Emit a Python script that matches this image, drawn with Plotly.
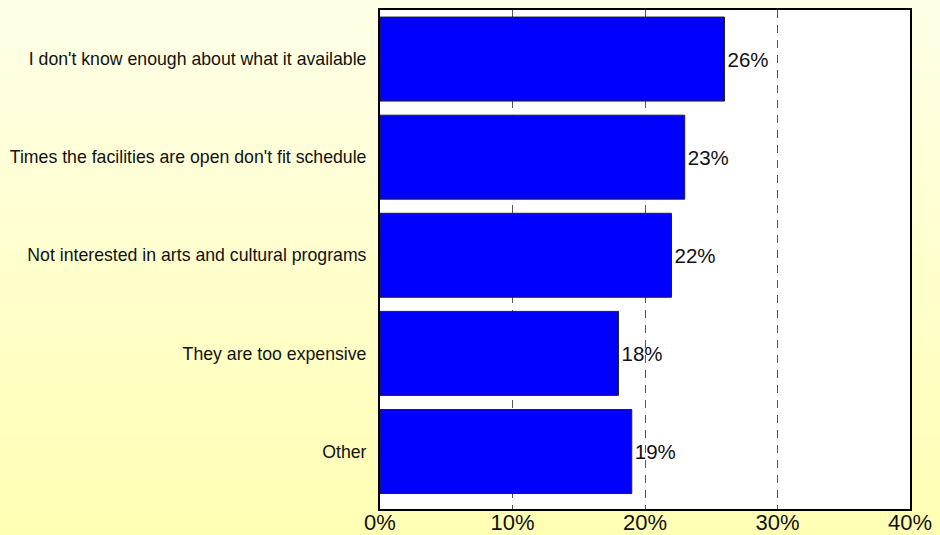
import plotly.graph_objects as go

categories = [
    "I don't know enough about what it available",
    "Times the facilities are open don't fit schedule",
    "Not interested in arts and cultural programs",
    "They are too expensive",
    "Other",
]
values = [26, 23, 22, 18, 19]
x_ticks = [0, 10, 20, 30, 40]
x_tick_labels = ["0%", "10%", "20%", "30%", "40%"]

FONT = "Liberation Sans, Arial, sans-serif"

fig = go.Figure()
fig.add_trace(go.Bar(
    y=categories,
    x=values,
    orientation="h",
    marker=dict(color="#0000FF", line=dict(color="#222222", width=1)),
    text=[f"{v}%" for v in values],
    textposition="outside",
    textfont=dict(family=FONT, size=20.5, color="#111111"),
    cliponaxis=False,
    hoverinfo="skip",
))

# vertical yellow gradient background
shapes = []
n = 60
top = (255, 255, 232)
bot = (255, 255, 178)
for i in range(n):
    t = i / (n - 1)
    c = tuple(round(top[k] + (bot[k] - top[k]) * t) for k in range(3))
    shapes.append(dict(
        type="rect", xref="paper", yref="paper", layer="below",
        x0=-1, x1=2,
        y0=1.05 - (i + 1) * (1.15 / n), y1=1.05 - i * (1.15 / n) + 0.001,
        line=dict(width=0), fillcolor=f"rgb{c}",
    ))
# white plot area
shapes.append(dict(type="rect", xref="paper", yref="paper", layer="below",
                   x0=0, x1=1, y0=0, y1=1, line=dict(width=0), fillcolor="white"))

fig.update_layout(
    width=940, height=535,
    margin=dict(l=380, r=30, t=10, b=26),
    paper_bgcolor="rgba(0,0,0,0)",
    plot_bgcolor="rgba(0,0,0,0)",
    showlegend=False,
    bargap=0.144,
    shapes=shapes,
    font=dict(family=FONT, color="#111111"),
    xaxis=dict(
        range=[0, 40], tickvals=x_ticks, ticktext=x_tick_labels,
        tickfont=dict(size=22, family=FONT, color="#111111"),
        showgrid=True, gridcolor="#555555", gridwidth=1, griddash="8px,7px",
        zeroline=False, showline=True, linecolor="black", linewidth=2, mirror=True,
        ticks="", fixedrange=True, automargin=False, ticklabelstandoff=-7,
    ),
    yaxis=dict(
        categoryorder="array", categoryarray=categories,
        range=[4.586, -0.5],
        tickfont=dict(size=17.7, family=FONT, color="#111111"),
        showgrid=False, zeroline=False,
        showline=True, linecolor="black", linewidth=2, mirror=True,
        ticks="outside", ticklen=8, tickcolor="rgba(0,0,0,0)", fixedrange=True,
        automargin=False,
    ),
)

fig.write_html("out.html")
